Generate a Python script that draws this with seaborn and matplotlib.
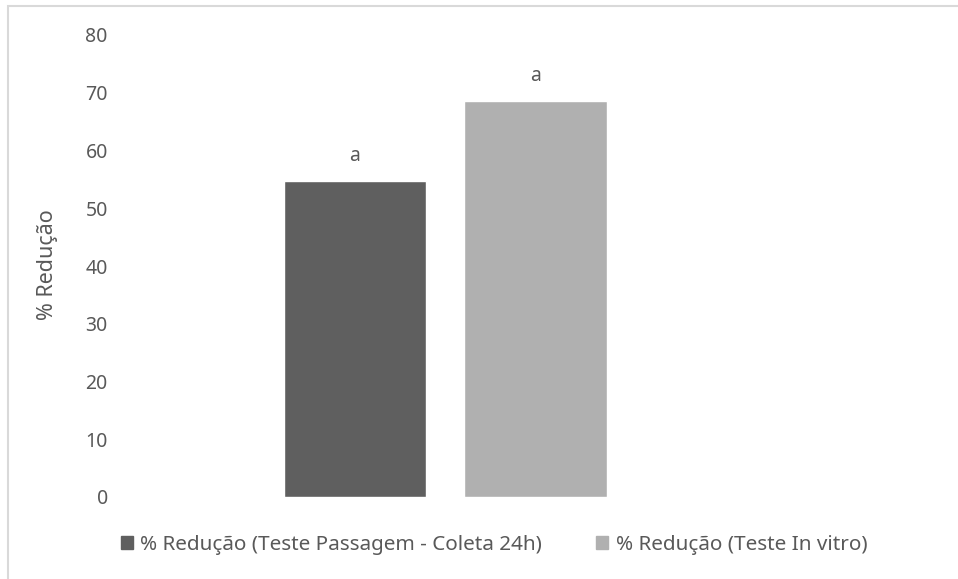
import matplotlib
matplotlib.use("Agg")
import matplotlib.pyplot as plt
import matplotlib.patches as mpatches
import pandas as pd
import seaborn as sns

# data
series = ["% Redução (Teste Passagem - Coleta 24h)", "% Redução (Teste In vitro)"]
values = [54.7, 68.5]
letters = ["a", "a"]
colors = ["#5f5f5f", "#b0b0b0"]
yticks = [0, 10, 20, 30, 40, 50, 60, 70, 80]

df = pd.DataFrame({"Serie": series, "Reducao": values})

sns.set_theme(style="white")
plt.rcParams['font.family'] = ['Noto Sans', 'DejaVu Sans']
text_color = "#595959"

W, H = 958, 579
fig = plt.figure(figsize=(W / 100, H / 100), dpi=100)

# axes placed in pixel terms: value 0 at y=497, value 80 at y=35
left_px, right_px = 130, 900
ax = fig.add_axes([left_px / W, (H - 497) / H, (right_px - left_px) / W, (497 - 35) / H])

sns.barplot(data=df, x="Serie", y="Reducao", hue="Serie", palette=colors,
            width=0.787, legend=False, ax=ax, saturation=1)

# bar 0 centre at x=355 px, one category step = 180.5 px
step = 180.5
ax.set_xlim(-(355 - left_px) / step, (right_px - 355) / step)
ax.set_ylim(0, 80)
ax.set_yticks(yticks)
ax.set_xticks([])
ax.set_xlabel("")
ax.set_ylabel("")
for s in ax.spines.values():
    s.set_visible(False)
ax.tick_params(axis="y", length=0, pad=16, labelsize=14, labelcolor=text_color)

# significance letters above bars
for i, (v, lt) in enumerate(zip(values, letters)):
    ax.annotate(lt, (i, v), xytext=(0, 11), textcoords="offset points",
                ha="center", va="bottom", fontsize=14, color=text_color)

fig.text(48 / W, 1 - 265 / H, "% Redução", rotation=90, ha="center", va="center",
         fontsize=15.5, color=text_color)

handles = [mpatches.Patch(color=c, label=s) for c, s in zip(colors, series)]
fig.legend(handles=handles, loc="center", bbox_to_anchor=(494 / W, 1 - 545 / H), ncol=2,
           frameon=False, fontsize=14.9, labelcolor=text_color, handlelength=0.6,
           handleheight=0.6, handletextpad=0.35, columnspacing=2.6)

# light chart border (right and bottom edges fall outside the crop)
fig.patches.append(mpatches.Rectangle((8 / W, -0.02), 1.0, 1 - 6 / H + 0.02,
                                      transform=fig.transFigure, fill=False,
                                      edgecolor="#d9d9d9", linewidth=1.5))

fig.savefig("out.png", dpi=100, facecolor="white")
